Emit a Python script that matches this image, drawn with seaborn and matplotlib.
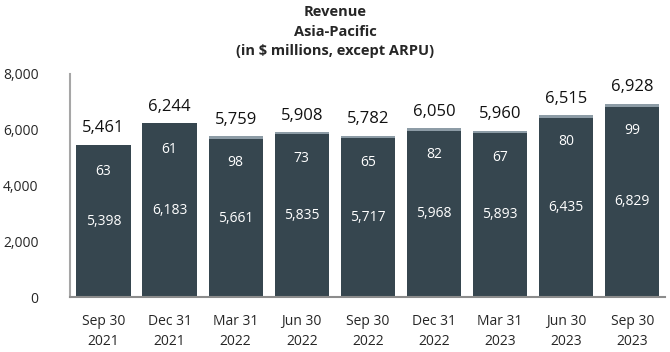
import pandas as pd
import seaborn as sns
import matplotlib.pyplot as plt

# data
periods = ['Sep 30\n2021', 'Dec 31\n2021', 'Mar 31\n2022', 'Jun 30\n2022', 'Sep 30\n2022',
           'Dec 31\n2022', 'Mar 31\n2023', 'Jun 30\n2023', 'Sep 30\n2023']
base = [5398, 6183, 5661, 5835, 5717, 5968, 5893, 6435, 6829]
other = [63, 61, 98, 73, 65, 82, 67, 80, 99]
totals = [5461, 6244, 5759, 5908, 5782, 6050, 5960, 6515, 6928]

df = pd.DataFrame({'period': periods, 'base': base, 'other': other, 'total': totals})

dark = '#36464f'
light = '#8d9ca6'

sns.set_style('white')
plt.rcParams['font.family'] = ['Open Sans', 'DejaVu Sans']

fig = plt.figure(figsize=(6.7, 3.52), dpi=100)
ax = fig.add_axes([0.105, 0.156, 0.888, 0.634])

# stacked bars: full total in light colour, base drawn over it
top_colors = [dark, dark] + [light] * 7
sns.barplot(data=df, x='period', y='total', palette=top_colors, hue='period',
            legend=False, width=0.82, saturation=1, linewidth=0, ax=ax)
sns.barplot(data=df, x='period', y='base', color=dark, width=0.82, saturation=1,
            linewidth=0, ax=ax)

for i, row in df.iterrows():
    ax.annotate(f"{row['total']:,}", (i, row['total']), xytext=(0, 6),
                textcoords='offset points', ha='center', va='bottom', fontsize=12, color='#111111')
    ax.annotate(f"{row['other']}", (i, row['total']), xytext=(0, -19),
                textcoords='offset points', ha='center', va='center', fontsize=10, color='white')
    ax.text(i, row['base'] / 2, f"{row['base']:,}", ha='center', va='center',
            fontsize=10, color='white')

ax.set_ylim(0, 8000)
ax.set_xlim(-0.5, 8.5)
ax.set_yticks([0, 2000, 4000, 6000, 8000])
ax.set_yticklabels([f"{v:,}" for v in [0, 2000, 4000, 6000, 8000]], fontsize=10)
ax.tick_params(axis='y', length=0, pad=23)
ax.tick_params(axis='x', length=0, pad=12, labelsize=10)
for lbl in ax.get_xticklabels():
    lbl.set_linespacing(1.45)
ax.set_xlabel('')
ax.set_ylabel('')

for s in ['top', 'right']:
    ax.spines[s].set_visible(False)
ax.spines['left'].set_color('#a6a6a6')
ax.spines['left'].set_linewidth(1.5)
ax.spines['bottom'].set_color('#8c8c8c')
ax.spines['bottom'].set_linewidth(1.5)

fig.text(0.5, 0.985, 'Revenue\nAsia-Pacific\n(in $ millions, except ARPU)', ha='center', va='top',
         fontsize=10.5, fontweight='bold', linespacing=1.5)

fig.savefig('out.png', dpi=100, facecolor='white')
